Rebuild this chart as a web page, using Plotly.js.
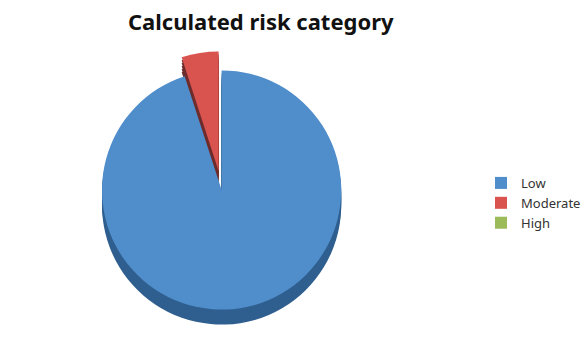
<!DOCTYPE html>
<html>
<head>
<meta charset="utf-8">
<script src="https://cdn.plot.ly/plotly-3.0.1.min.js"></script>
<style>html,body{margin:0;padding:0;background:#fff;}#chart{width:586px;height:344px;}</style>
</head>
<body>
<div id="chart"></div>
<script>
const categories = ['Low', 'Moderate', 'High'];
const values = [95, 5, 0];
const topColors = ['#4F8DCB', '#D9534F', '#9BBB59'];
const sideColors = ['#2F5F8F', '#6E2C2C', '#5E7A30'];
const pulls = [0, 0.16, 0];

function px2y(py) { return 1 - py / 344; }
function px2x(px) { return px / 586; }
const cx = 222, half = 139, cy = 190;
const depth = 15;
const layers = [15, 12, 9, 6, 3];

function pieTrace(offset, colors, legend) {
  return {
    type: 'pie',
    labels: categories,
    values: values,
    sort: false,
    direction: 'clockwise',
    rotation: 0,
    pull: pulls,
    textinfo: 'none',
    hoverinfo: 'label+value',
    showlegend: legend,
    marker: { colors: colors, line: { width: 0 } },
    domain: {
      x: [px2x(cx - half), px2x(cx + half)],
      y: [Math.max(0, px2y(cy + offset + half)), px2y(cy + offset - half)]
    }
  };
}

const data = layers.map(o => pieTrace(o, sideColors, false));
data.push(pieTrace(0, topColors, true));

const layout = {
  width: 586, height: 344,
  margin: { l: 0, r: 0, t: 0, b: 0 },
  paper_bgcolor: '#fff',
  title: {
    text: '<b>Calculated risk category</b>',
    x: 0.445, xanchor: 'center', y: 0.935, yanchor: 'middle',
    font: { family: 'Noto Sans, DejaVu Sans, sans-serif', size: 22, color: '#111' }
  },
  legend: {
    x: 0.822, xanchor: 'left', y: 0.41, yanchor: 'middle',
    font: { family: 'Noto Sans, sans-serif', size: 13, color: '#333' },
    itemwidth: 30, bgcolor: 'rgba(0,0,0,0)'
  },
  showlegend: true
};

Plotly.newPlot('chart', data, layout, { displayModeBar: false, staticPlot: true });
</script>
</body>
</html>
